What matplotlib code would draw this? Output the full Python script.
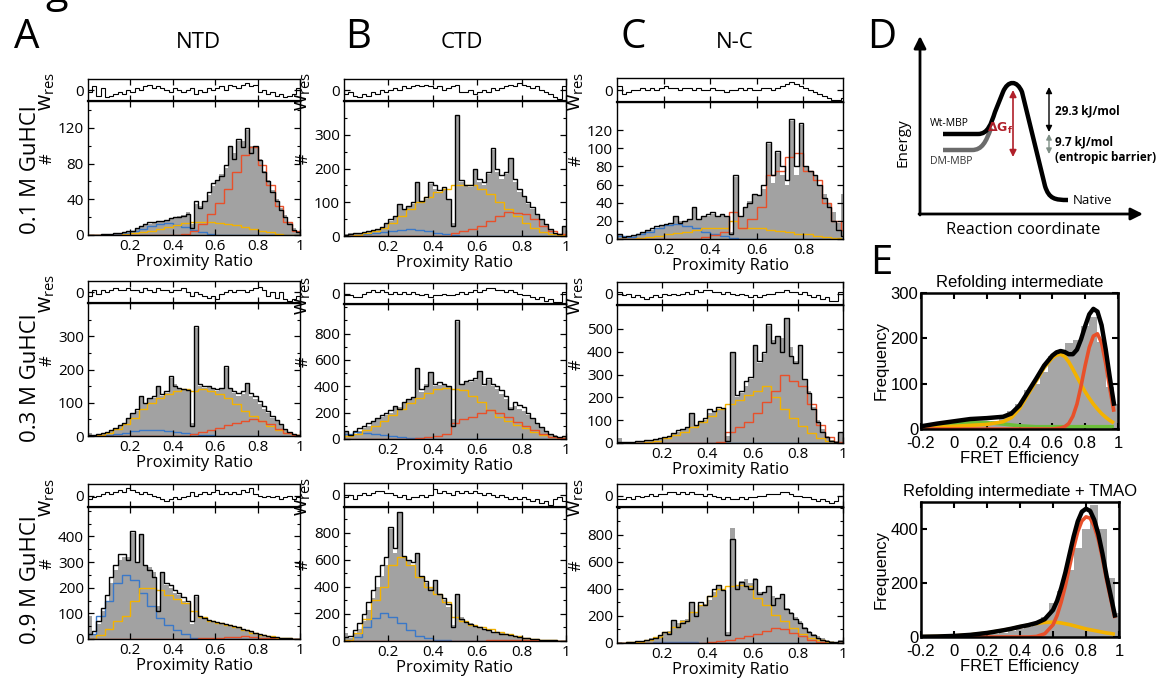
import numpy as np
import matplotlib
matplotlib.use("Agg")
import matplotlib.pyplot as plt
from matplotlib.ticker import MultipleLocator
from matplotlib.path import Path
from matplotlib.patches import PathPatch

plt.rcParams['font.family'] = ['Open Sans', 'DejaVu Sans']
plt.rcParams['mathtext.default'] = 'regular'

# ------------------------------------------------------------------ data
# histogram bins: 50 bins over proximity ratio 0..1 (data, fit, residual)
# component species: 25 bins over 0..1
pr_ticks = [0.2, 0.4, 0.6, 0.8, 1.0]
pr_ticklabels = ['0.2', '0.4', '0.6', '0.8', '1']
pr_ticks_c1 = [0.2, 0.4, 0.6, 0.8]
pr_ticklabels_c1 = ['0.2', '0.4', '0.6', '0.8']

col_titles = ['NTD', 'CTD', 'N-C']
row_titles = ['0.1 M GuHCl', '0.3 M GuHCl', '0.9 M GuHCl']

# ---- NTD 0.1 M
ntd01_data = [0, 0, 0, 1, 1, 1, 2, 2, 3, 4,
              5, 7, 9, 11, 12, 13, 15, 15, 16, 18,
              20, 21, 22, 26, 12, 35, 33, 38, 45, 55,
              60, 68, 75, 98, 92, 105, 105, 118, 100, 98,
              85, 72, 62, 50, 40, 30, 22, 14, 8, 4]
ntd01_fit = [0, 0, 0, 1, 1, 1, 2, 2, 3, 4,
             5, 8, 10, 12, 14, 15, 16, 16, 17, 19,
             20, 20, 21, 24, 8, 38, 30, 38, 48, 58,
             62, 66, 78, 100, 85, 108, 98, 120, 92, 100,
             84, 70, 60, 48, 38, 28, 20, 12, 6, 3]
ntd01_blue = [0, 0, 0, 1, 2, 4, 7, 10, 12, 13, 11, 9, 6, 3, 1, 0, 0, 0, 0, 0, 0, 0, 0, 0, 0]
ntd01_yellow = [0, 0, 0, 0, 1, 2, 3, 5, 7, 9, 11, 13, 15, 14, 14, 13, 12, 11, 9, 7, 5, 3, 1, 0, 0]
ntd01_red = [0, 0, 0, 0, 0, 0, 0, 0, 0, 0, 0, 1, 4, 12, 24, 36, 52, 70, 90, 98, 78, 56, 32, 15, 4]
ntd01_res = [-0.5, 1.0, -1.5, 0.5, -2.0, -1.5, -1.0, -0.5, -1.0, 0.0,
             -0.5, 0.5, 0.0, 1.0, 1.5, 0.5, 1.0, 0.5, 0.0, -0.5,
             0.5, 0.0, -0.5, 0.0, 0.5, -1.0, 0.0, -0.5, 0.5, 0.0,
             0.5, 1.0, 0.0, 1.5, 1.0, 0.5, 1.5, 2.0, 1.0, 1.5,
             -0.5, 0.0, -1.0, -0.5, -1.5, -1.0, -2.0, -1.5, -1.0, 0.5]
ntd01_yticks = [0, 40, 80, 120]

# ---- NTD 0.3 M
ntd03_data = [10, 3, 5, 8, 12, 18, 25, 30, 38, 50,
              65, 75, 118, 95, 110, 115, 148, 120, 130, 175,
              155, 140, 140, 135, 40, 325, 150, 145, 150, 140,
              135, 140, 205, 140, 130, 120, 125, 158, 120, 110,
              95, 80, 70, 55, 45, 35, 22, 12, 6, 3]
ntd03_fit = [2, 3, 5, 8, 12, 18, 25, 32, 40, 55,
             70, 80, 120, 100, 115, 120, 150, 125, 135, 180,
             150, 145, 140, 138, 30, 330, 155, 150, 150, 145,
             140, 145, 210, 145, 135, 130, 135, 160, 130, 120,
             105, 90, 75, 60, 48, 35, 22, 12, 6, 3]
ntd03_blue = [0, 1, 3, 6, 10, 14, 17, 18, 17, 15, 12, 9, 6, 4, 2, 1, 0, 0, 0, 0, 0, 0, 0, 0, 0]
ntd03_yellow = [1, 4, 10, 20, 35, 55, 80, 100, 115, 125, 135, 140, 135, 140, 135, 125, 115, 95, 75, 60, 45, 30, 18, 8, 2]
ntd03_red = [0, 0, 0, 0, 0, 0, 0, 0, 0, 0, 0, 0, 5, 12, 18, 25, 32, 40, 45, 52, 45, 35, 20, 8, 2]
ntd03_res = [-1.0, 0.5, -0.5, 0.5, 0.0, 0.5, 1.0, 0.5, 0.5, 1.0,
             0.5, 0.5, 0.0, 1.0, 0.5, 0.0, 1.0, 0.5, 0.5, 0.0,
             0.5, 0.5, 1.0, 0.0, -1.0, 0.0, -0.5, -1.0, -1.5, -1.0,
             -2.0, -0.5, 0.0, 0.5, 0.0, 0.5, 0.5, 0.0, 0.5, 1.0,
             1.5, 0.5, -1.0, 0.0, -1.5, 0.0, -2.0, -2.5, -2.0, -1.0]
ntd03_yticks = [0, 100, 200, 300]

# ---- NTD 0.9 M
ntd09_data = [90, 20, 60, 110, 150, 220, 270, 310, 320, 320,
              415, 300, 405, 290, 280, 260, 130, 260, 210, 200,
              180, 170, 150, 140, 60, 165, 90, 80, 75, 70,
              65, 60, 55, 55, 50, 45, 40, 35, 30, 25,
              20, 15, 12, 8, 6, 4, 3, 2, 1, 1]
ntd09_fit = [20, 30, 70, 120, 170, 240, 290, 330, 330, 310,
             420, 300, 410, 290, 270, 240, 110, 260, 220, 210,
             190, 180, 165, 150, 70, 170, 90, 80, 75, 70,
             65, 62, 58, 55, 50, 45, 40, 35, 30, 25,
             20, 15, 12, 8, 6, 4, 3, 2, 1, 1]
ntd09_blue = [20, 90, 150, 220, 250, 230, 180, 130, 80, 55, 35, 20, 5, 0, 0, 0, 0, 0, 0, 0, 0, 0, 0, 0, 0]
ntd09_yellow = [0, 15, 40, 70, 90, 150, 200, 200, 190, 170, 155, 140, 110, 85, 70, 62, 55, 45, 35, 25, 15, 10, 5, 2, 1]
ntd09_red = [0, 0, 0, 0, 0, 0, 0, 0, 0, 0, 0, 0, 0, 2, 3, 4, 6, 8, 10, 8, 5, 3, 1, 0, 0]
ntd09_res = [-1.0, -0.5, 0.0, 0.5, 1.0, 0.5, 1.0, 1.5, 1.0, 2.0,
             1.5, 1.0, 0.5, 1.0, 0.5, 0.0, -0.5, -1.0, -1.5, -1.0,
             -0.5, -1.0, -0.5, 0.0, 1.0, 0.0, 0.5, 1.0, 0.5, 1.0,
             1.5, 0.5, 1.0, 0.5, 1.0, 0.5, 1.5, 1.0, 2.0, 0.5,
             0.0, -0.5, 0.0, -0.5, 0.0, -1.0, -0.5, 0.0, -1.0, -0.5]
ntd09_yticks = [0, 100, 200, 300, 400]

# ---- CTD 0.1 M
ctd01_data = [5, 8, 5, 10, 12, 15, 18, 22, 28, 35,
              45, 55, 92, 80, 85, 95, 158, 100, 110, 155,
              140, 130, 140, 110, 40, 355, 160, 150, 145, 195,
              160, 150, 185, 255, 190, 170, 185, 228, 160, 130,
              115, 95, 80, 65, 50, 35, 20, 10, 5, 30]
ctd01_fit = [3, 6, 8, 10, 12, 15, 18, 22, 28, 40,
             50, 60, 95, 80, 90, 100, 160, 105, 115, 160,
             150, 135, 145, 110, 30, 360, 165, 150, 150, 200,
             170, 160, 190, 260, 200, 180, 190, 230, 170, 140,
             120, 100, 85, 65, 50, 35, 20, 10, 5, 30]
ctd01_blue = [0, 2, 5, 8, 12, 15, 18, 20, 18, 15, 10, 6, 3, 1, 0, 0, 0, 0, 0, 0, 0, 0, 0, 0, 0]
ctd01_yellow = [1, 4, 8, 15, 25, 40, 60, 80, 100, 115, 130, 140, 150, 150, 150, 140, 125, 100, 80, 60, 40, 25, 12, 5, 2]
ctd01_red = [0, 0, 0, 0, 0, 0, 0, 0, 0, 0, 0, 0, 10, 15, 20, 30, 45, 60, 70, 68, 65, 50, 30, 15, 5]
ctd01_res = [-1.0, -0.5, -1.5, -2.0, -1.0, -1.5, -0.5, -1.0, 0.0, -0.5,
             0.0, 0.5, 0.0, 1.0, 0.5, 1.0, 1.5, 1.0, 1.5, 1.0,
             0.5, 1.0, 0.0, 0.5, 1.0, 1.5, -0.5, -0.5, 0.0, -1.0,
             -0.5, 0.0, -0.5, 0.5, 0.0, 0.5, 1.0, 1.5, 1.0, 2.0,
             1.5, 1.0, 0.5, 1.0, 0.0, -0.5, -1.0, -2.0, -2.5, 1.0]
ctd01_yticks = [0, 100, 200, 300]

# ---- CTD 0.3 M
ctd03_data = [60, 20, 40, 60, 80, 100, 130, 150, 170, 180,
              200, 245, 240, 270, 300, 320, 530, 360, 420, 505,
              400, 410, 420, 400, 150, 890, 420, 440, 430, 450,
              515, 400, 450, 400, 380, 340, 300, 240, 250, 230,
              210, 180, 150, 120, 90, 60, 40, 30, 15, 20]
ctd03_fit = [60, 30, 60, 80, 100, 120, 140, 160, 180, 200,
             220, 250, 230, 280, 300, 320, 540, 380, 400, 510,
             420, 430, 420, 400, 100, 900, 420, 440, 450, 460,
             520, 420, 460, 420, 400, 370, 330, 230, 280, 260,
             240, 200, 160, 120, 90, 60, 40, 25, 15, 20]
ctd03_blue = [40, 50, 45, 40, 30, 20, 15, 10, 5, 2, 0, 0, 0, 0, 0, 0, 0, 0, 0, 0, 0, 0, 0, 0, 0]
ctd03_yellow = [20, 40, 70, 100, 140, 180, 230, 270, 310, 350, 380, 390, 380, 370, 330, 280, 220, 170, 140, 110, 80, 50, 28, 12, 4]
ctd03_red = [0, 0, 0, 0, 0, 0, 0, 0, 10, 15, 25, 35, 120, 150, 170, 200, 220, 200, 170, 130, 100, 70, 40, 15, 5]
ctd03_res = [-0.5, -0.5, -1.0, -1.0, 0.0, 0.5, 1.0, 0.5, 1.0, 0.5,
             0.0, 0.5, 0.0, 0.5, 0.0, 0.5, 0.0, -0.5, 0.0, -1.0,
             -0.5, -0.5, 0.0, -0.5, -0.5, 0.0, 0.5, 0.0, 0.5, 1.0,
             0.5, 1.0, 1.5, 1.5, 1.0, 1.0, 0.5, 1.0, 0.5, 0.0,
             -0.5, -0.5, -1.0, -1.5, -1.0, -2.0, -1.5, -2.5, -2.5, 0.5]
ctd03_yticks = [0, 200, 400, 600, 800]

# ---- CTD 0.9 M
ctd09_data = [60, 20, 50, 90, 150, 230, 320, 400, 480, 560,
              830, 650, 950, 620, 600, 560, 640, 470, 430, 400,
              445, 340, 300, 250, 120, 345, 180, 150, 130, 120,
              100, 90, 80, 70, 65, 60, 50, 45, 40, 30,
              25, 20, 15, 12, 10, 8, 5, 4, 3, 2]
ctd09_fit = [30, 40, 80, 130, 200, 290, 380, 480, 560, 620,
             840, 690, 950, 630, 600, 580, 650, 480, 440, 380,
             450, 350, 320, 270, 100, 350, 160, 140, 125, 110,
             100, 90, 80, 70, 65, 55, 50, 45, 40, 30,
             25, 20, 15, 12, 10, 8, 5, 4, 3, 2]
ctd09_blue = [5, 30, 100, 170, 210, 180, 130, 80, 40, 20, 10, 5, 0, 0, 0, 0, 0, 0, 0, 0, 0, 0, 0, 0, 0]
ctd09_yellow = [10, 60, 160, 300, 400, 560, 620, 560, 470, 400, 350, 290, 180, 150, 120, 100, 85, 65, 50, 38, 25, 15, 10, 5, 2]
ctd09_red = [0, 0, 0, 0, 0, 0, 0, 0, 0, 0, 0, 0, 0, 0, 2, 3, 5, 6, 8, 8, 7, 5, 3, 2, 1]
ctd09_res = [-0.5, 0.0, -1.0, 0.0, 0.5, 0.0, 0.5, 1.0, 1.0, 0.5,
             0.5, 0.0, -0.5, 0.0, -1.0, -0.5, -0.5, 0.0, -0.5, 0.0,
             1.5, 0.5, 1.0, 0.5, 0.0, 1.0, 0.5, 1.0, 0.5, 1.0,
             0.5, 0.0, 0.5, 0.0, -0.5, 0.0, -0.5, -1.0, -0.5, -1.0,
             -0.5, -1.0, -1.5, -1.0, -2.0, -1.5, -2.5, -1.0, -0.5, -1.5]
ctd09_yticks = [0, 200, 400, 600, 800]

# ---- N-C 0.1 M
nc01_data = [5, 3, 2, 4, 6, 8, 10, 10, 12, 14,
             15, 18, 24, 20, 20, 22, 34, 22, 25, 25,
             28, 25, 27, 25, 8, 68, 25, 35, 42, 50,
             48, 55, 105, 62, 95, 70, 60, 130, 70, 126,
             80, 75, 70, 60, 50, 40, 30, 18, 50, 20]
nc01_fit = [5, 2, 3, 4, 6, 8, 10, 12, 14, 15,
            16, 18, 25, 18, 20, 22, 35, 22, 25, 28,
            30, 25, 28, 25, 5, 70, 25, 35, 40, 50,
            48, 60, 107, 70, 97, 80, 65, 132, 80, 128,
            80, 75, 70, 60, 45, 35, 20, 10, 3, 20]
nc01_blue = [3, 2, 5, 8, 12, 15, 16, 14, 12, 8, 5, 3, 1, 0, 0, 0, 0, 0, 0, 0, 0, 0, 0, 0, 0]
nc01_yellow = [0, 0, 1, 2, 3, 5, 7, 8, 10, 12, 12, 12, 20, 12, 12, 12, 10, 9, 8, 6, 5, 3, 2, 1, 0]
nc01_red = [0, 0, 0, 0, 0, 0, 0, 0, 0, 2, 4, 8, 30, 12, 22, 35, 70, 75, 90, 95, 75, 65, 40, 20, 10]
nc01_res = [1.0, -1.0, -0.5, 0.0, 0.0, 0.5, 0.0, 0.5, 0.0, 0.5,
            1.0, 0.5, 0.5, 0.0, 0.5, 0.5, 0.0, 0.5, 0.0, 0.0,
            0.5, 0.0, 0.0, -0.5, 0.0, 0.0, 0.5, 0.0, 0.5, 0.0,
            0.0, 0.5, 0.5, 0.0, 0.5, 1.0, 1.5, 2.0, 1.5, 1.0,
            0.5, 0.0, -0.5, -1.0, -1.5, -2.0, -2.5, -2.5, -2.0, -2.0]
nc01_yticks = [0, 20, 40, 60, 80, 100, 120]

# ---- N-C 0.3 M
nc03_data = [20, 5, 5, 5, 8, 10, 12, 15, 18, 20,
             25, 30, 40, 50, 60, 70, 128, 80, 90, 100,
             130, 140, 150, 150, 30, 395, 200, 220, 250, 280,
             425, 350, 390, 515, 450, 470, 460, 545, 420, 360,
             425, 280, 230, 160, 100, 60, 30, 15, 8, 50]
nc03_fit = [5, 5, 5, 5, 8, 10, 12, 15, 18, 22,
            25, 30, 45, 55, 60, 70, 130, 80, 95, 110,
            150, 140, 160, 155, 10, 400, 210, 230, 270, 290,
            430, 360, 400, 520, 440, 470, 400, 550, 380, 350,
            430, 280, 220, 150, 90, 50, 25, 10, 5, 50]
nc03_blue = [0, 0, 1, 1, 1, 1, 1, 0, 0, 0, 0, 0, 0, 0, 0, 0, 0, 0, 0, 0, 0, 0, 0, 0, 0]
nc03_yellow = [0, 0, 2, 5, 10, 20, 35, 50, 70, 90, 120, 150, 170, 190, 210, 230, 250, 200, 150, 110, 75, 45, 20, 8, 2]
nc03_red = [0, 0, 0, 0, 0, 0, 0, 0, 0, 0, 0, 5, 50, 70, 90, 130, 180, 230, 300, 270, 250, 170, 80, 25, 5]
nc03_res = [0.5, -0.5, 0.0, -1.0, -0.5, -1.0, -1.5, -1.0, -0.5, -1.0,
            0.0, -0.5, 0.0, -0.5, 0.0, 0.5, 0.0, 1.0, 0.5, 1.0,
            1.0, 0.5, 0.5, 0.0, 0.5, 0.0, -0.5, 0.0, -0.5, -1.0,
            -0.5, -1.0, -0.5, 0.0, 0.0, 0.5, 0.5, 1.0, 0.5, 0.5,
            0.0, 0.5, -0.5, -1.0, -0.5, -1.5, -1.0, -2.0, -2.0, 0.5]
nc03_yticks = [0, 100, 200, 300, 400, 500]

# ---- N-C 0.9 M
nc09_data = [5, 3, 5, 8, 12, 18, 25, 35, 45, 60,
             80, 90, 165, 150, 170, 180, 295, 230, 280, 290,
             320, 380, 430, 400, 80, 850, 420, 460, 470, 440,
             480, 380, 380, 415, 350, 330, 355, 260, 230, 190,
             160, 120, 90, 70, 50, 35, 25, 15, 8, 20]
nc09_fit = [3, 3, 5, 8, 12, 18, 25, 30, 40, 60,
            80, 70, 170, 120, 150, 160, 300, 200, 300, 280,
            350, 400, 430, 390, 60, 770, 400, 450, 420, 400,
            470, 360, 380, 420, 280, 330, 360, 250, 220, 180,
            150, 110, 80, 60, 40, 25, 15, 10, 5, 15]
nc09_blue = [0, 0, 1, 3, 5, 10, 10, 8, 5, 3, 1, 0, 0, 0, 0, 0, 0, 0, 0, 0, 0, 0, 0, 0, 0]
nc09_yellow = [2, 5, 10, 25, 45, 80, 120, 160, 230, 280, 350, 400, 420, 430, 420, 330, 280, 210, 160, 110, 70, 40, 20, 8, 3]
nc09_red = [0, 0, 0, 0, 0, 0, 0, 0, 0, 0, 5, 15, 25, 40, 55, 70, 90, 110, 100, 75, 50, 25, 10, 3, 1]
nc09_res = [-1.0, -1.0, -0.5, -1.0, 0.0, -0.5, 0.0, 0.5, 0.0, 0.5,
            0.5, 1.0, 1.0, 0.5, 1.0, 0.5, 1.0, 0.5, 0.5, 0.0,
            0.5, 0.0, -0.5, -1.0, -0.5, -1.0, -1.0, -0.5, -1.0, -0.5,
            -0.5, 0.0, 0.0, 0.5, 0.5, 0.5, 1.0, 1.0, 0.5, 0.0,
            0.0, -0.5, -0.5, -1.0, -1.5, -1.0, -1.5, -2.0, -1.5, 0.0]
nc09_yticks = [0, 200, 400, 600, 800]

# ---- panel E : FRET efficiency histograms (bar centres, 0.05 wide)
fret_bins = [-0.2, -0.15, -0.1, -0.05, 0.0, 0.05, 0.1, 0.15, 0.2, 0.25, 0.3, 0.35,
             0.4, 0.45, 0.5, 0.55, 0.6, 0.65, 0.7, 0.75, 0.8, 0.85, 0.9, 0.95, 1.0]
refold_counts = [3, 5, 8, 10, 20, 12, 12, 15, 12, 18, 28, 40,
                 55, 85, 100, 126, 160, 175, 190, 196, 228, 247, 192, 93, 55]
tmao_counts = [3, 4, 5, 5, 6, 6, 7, 8, 10, 12, 15, 22,
               30, 38, 52, 74, 126, 170, 250, 330, 400, 490, 400, 220, 90]
# fitted curves
fret_x = [-0.2, -0.1, 0.0, 0.1, 0.2, 0.3, 0.35, 0.4, 0.45, 0.5, 0.55, 0.6, 0.625, 0.65,
          0.675, 0.7, 0.725, 0.75, 0.775, 0.8, 0.825, 0.85, 0.875, 0.9, 0.925, 0.95, 0.975]
refold_yellow = [2, 4, 6, 8, 10, 16, 25, 45, 75, 105, 135, 157, 163, 165,
                 160, 148, 132, 115, 98, 82, 68, 55, 44, 34, 26, 19, 13]
refold_red = [0, 0, 0, 0, 0, 0, 0, 0, 0, 0, 0, 0, 1, 2,
              5, 12, 28, 55, 95, 140, 180, 205, 210, 190, 145, 90, 38]
refold_green = [4, 8, 11, 14, 14, 11, 9, 7, 6, 5, 5, 5, 5, 5,
                5, 5, 5, 5, 5, 5, 5, 5, 5, 5, 5, 5, 5]
tmao_yellow = [1, 2, 4, 8, 15, 25, 31, 38, 44, 50, 54, 55, 54, 52,
               49, 46, 42, 38, 34, 30, 27, 24, 21, 18, 15, 13, 10]
tmao_red = [0, 0, 0, 0, 0, 0, 0, 0, 0, 2, 12, 45, 80, 130,
            190, 260, 330, 390, 430, 445, 440, 410, 360, 290, 210, 140, 70]
fret_ticks = [-0.2, 0.0, 0.2, 0.4, 0.6, 0.8, 1.0]
fret_ticklabels = ['-0.2', '0', '0.2', '0.4', '0.6', '0.8', '1']
refold_yticks = [0, 100, 200, 300]
tmao_yticks = [0, 200, 400]

# ------------------------------------------------------------------ style
W, H = 1166, 682
GRAY = '#a2a2a2'
BLUE = '#3a78c8'
YEL = '#f3b200'
RED = '#e8502a'
GREEN = '#6cbf3a'
TICK_FS = 11

fig = plt.figure(figsize=(W / 100, H / 100), dpi=100)


def px_box(x0, y0, x1, y1):
    return [x0 / W, 1 - y1 / H, (x1 - x0) / W, (y1 - y0) / H]


def style_ticks(ax, size):
    ax.tick_params(direction='in', top=True, right=True, length=4, width=0.9,
                   labelsize=size, pad=3)
    ax.tick_params(which='minor', direction='in', top=True, right=True, length=2.5, width=0.8)


def hist_panel(cols, rows, data, fit, blue, yellow, red, res,
               ymax, yticks, yminor, xmax, xt, xtl):
    x0, x1 = cols
    rt, mt, mb = rows
    width = x1 - x0
    axr = fig.add_axes(px_box(x0, rt, x1, mt))
    ax = fig.add_axes(px_box(x0, mt, x1, mb))
    e = np.linspace(0, 1, len(data) + 1)
    ce = np.linspace(0, 1, len(blue) + 1)
    ax.stairs(data, e, fill=True, color=GRAY, lw=0)
    ax.stairs(blue, ce, color=BLUE, lw=1.0)
    ax.stairs(yellow, ce, color=YEL, lw=1.0)
    ax.stairs(red, ce, color=RED, lw=1.0)
    ax.stairs(fit, e, color='k', lw=1.0)
    ax.set_xlim(0, xmax)
    ax.set_ylim(0, ymax)
    ax.set_xticks(xt)
    ax.set_xticklabels(xtl)
    ax.set_yticks(yticks)
    if yminor:
        ax.yaxis.set_minor_locator(MultipleLocator(yminor))
    style_ticks(ax, TICK_FS)
    ax.set_xlabel('Proximity Ratio', fontsize=12, labelpad=0)
    ax.set_ylabel('#', fontsize=12, labelpad=0)
    ax.yaxis.set_label_coords(-32 / width, 0.57)
    for s in ax.spines.values():
        s.set_linewidth(1.0)

    axr.stairs(res, e, color='k', lw=0.8)
    axr.set_xlim(0, xmax)
    axr.set_ylim(-3, 3)
    axr.set_xticks(xt)
    axr.set_xticklabels([])
    axr.set_yticks([0])
    axr.set_yticklabels(['0'])
    style_ticks(axr, TICK_FS)
    axr.set_ylabel(r'$\mathregular{w_{res}}$', fontsize=15, labelpad=0)
    axr.yaxis.set_label_coords(-31 / width, 0.42)
    for s in axr.spines.values():
        s.set_linewidth(1.0)
    axr.spines['bottom'].set_linewidth(1.6)
    return ax


col_px = [(88, 300), (344, 566), (617, 843)]
row_px = [
    [(79, 101, 235), (79, 101, 236), (78, 102, 239)],
    [(281, 303, 436), (283, 304, 439), (282, 305, 443)],
    [(484, 507, 639), (483, 507, 641), (484, 507, 643)],
]

panels = [
    [(ntd01_data, ntd01_fit, ntd01_blue, ntd01_yellow, ntd01_red, ntd01_res, 150, ntd01_yticks, 20),
     (ctd01_data, ctd01_fit, ctd01_blue, ctd01_yellow, ctd01_red, ctd01_res, 400, ctd01_yticks, 50),
     (nc01_data, nc01_fit, nc01_blue, nc01_yellow, nc01_red, nc01_res, 151, nc01_yticks, None)],
    [(ntd03_data, ntd03_fit, ntd03_blue, ntd03_yellow, ntd03_red, ntd03_res, 400, ntd03_yticks, 50),
     (ctd03_data, ctd03_fit, ctd03_blue, ctd03_yellow, ctd03_red, ctd03_res, 1025, ctd03_yticks, 100),
     (nc03_data, nc03_fit, nc03_blue, nc03_yellow, nc03_red, nc03_res, 605, nc03_yticks, None)],
    [(ntd09_data, ntd09_fit, ntd09_blue, ntd09_yellow, ntd09_red, ntd09_res, 515, ntd09_yticks, 50),
     (ctd09_data, ctd09_fit, ctd09_blue, ctd09_yellow, ctd09_red, ctd09_res, 990, ctd09_yticks, 100),
     (nc09_data, nc09_fit, nc09_blue, nc09_yellow, nc09_red, nc09_res, 1005, nc09_yticks, 100)],
]

for r in range(3):
    for c in range(3):
        d, f, b, y, rd, rs, ymax, yt, ymin = panels[r][c]
        if r == 0 and c == 2:
            xmax, xt, xtl = 0.97, pr_ticks_c1, pr_ticklabels_c1
        else:
            xmax, xt, xtl = 1.0, pr_ticks, pr_ticklabels
        hist_panel(col_px[c], row_px[r][c], d, f, b, y, rd, rs, ymax, yt, ymin, xmax, xt, xtl)


# ---------------------------------------------------------------- panel E
def fret_panel(box, counts, comps, ymax, yticks, title):
    ax = fig.add_axes(px_box(*box))
    ax.bar(fret_bins, counts, width=0.05, color='#a6a6a6', lw=0)
    total = np.zeros(len(fret_x))
    for vals, col in comps:
        ax.plot(fret_x, vals, color=col, lw=2.6, solid_capstyle='butt')
        total = total + np.array(vals)
    ax.plot(fret_x, total, color='k', lw=3.2)
    ax.set_xlim(-0.2, 1.0)
    ax.set_ylim(0, ymax)
    ax.set_xticks(fret_ticks)
    ax.set_xticklabels(fret_ticklabels, family=['Liberation Sans'])
    ax.set_yticks(yticks)
    for lab in ax.get_yticklabels():
        lab.set_family(['Liberation Sans'])
    ax.tick_params(direction='in', top=True, right=True, length=4, width=1.5,
                   labelsize=12)
    ax.tick_params(axis='x', pad=5)
    ax.tick_params(axis='y', pad=2)
    for s in ax.spines.values():
        s.set_linewidth(1.8)
    ax.set_xlabel('FRET Efficiency', fontsize=12, family=['Liberation Sans'], labelpad=0)
    ax.set_ylabel('Frequency', fontsize=12, family=['Liberation Sans'], labelpad=1)
    ax.set_title(title, fontsize=12, family=['Liberation Sans'], pad=4)
    return ax


fret_panel((921, 293, 1118, 429), refold_counts,
           [(refold_green, GREEN), (refold_yellow, YEL), (refold_red, RED)],
           300, refold_yticks, 'Refolding intermediate')
fret_panel((921, 502, 1119, 637), tmao_counts,
           [(tmao_yellow, YEL), (tmao_red, RED)],
           500, tmao_yticks, 'Refolding intermediate + TMAO')

# ---------------------------------------------------------------- overlay
ov = fig.add_axes([0, 0, 1, 1])
ov.set_xlim(0, W)
ov.set_ylim(H, 0)
ov.axis('off')

for lab, x, y in [('A', 27, 38), ('B', 358, 38), ('C', 633, 38), ('D', 882, 38), ('E', 881, 264)]:
    ov.text(x, y, lab, fontsize=29, ha='center', va='center')
ov.text(57, 2, 'g', fontsize=30, ha='center', va='baseline')

for t, x in zip(col_titles, [198, 462, 735]):
    ov.text(x, 42, t, fontsize=16, ha='center', va='center')
for t, y in zip(row_titles, [170, 378, 580]):
    ov.text(30, y, t, fontsize=16, ha='center', va='center', rotation=90)

# ---- panel D: schematic energy landscape
axis_kw = dict(arrowstyle='-|>', lw=2.0, color='k', mutation_scale=18, shrinkA=0, shrinkB=0)
ov.annotate('', xy=(920, 36), xytext=(920, 215), arrowprops=axis_kw)
ov.annotate('', xy=(1143, 214), xytext=(919, 214), arrowprops=axis_kw)

wt_path = Path([(943, 134), (978, 134), (988, 134), (991, 124), (995, 112), (1003, 92),
                (1008, 80), (1017, 80), (1022, 92), (1045, 186), (1049, 199), (1055, 200), (1068, 200)],
               [Path.MOVETO, Path.LINETO, Path.CURVE4, Path.CURVE4, Path.CURVE4, Path.LINETO,
                Path.CURVE4, Path.CURVE4, Path.CURVE4, Path.LINETO, Path.CURVE4, Path.CURVE4, Path.CURVE4])
dm_path = Path([(943, 150), (972, 150), (982, 150), (986, 142), (991, 128)],
               [Path.MOVETO, Path.LINETO, Path.CURVE4, Path.CURVE4, Path.CURVE4])
ov.add_patch(PathPatch(dm_path, fill=False, lw=3.2, color='#6b6b6b', capstyle='butt'))
ov.add_patch(PathPatch(wt_path, fill=False, lw=3.2, color='k', capstyle='butt', joinstyle='round'))

ov.annotate('', xy=(1013, 90), xytext=(1013, 157),
            arrowprops=dict(arrowstyle='<|-|>', lw=1.2, color='#b0202a', mutation_scale=10,
                            shrinkA=0, shrinkB=0))
ov.text(1000, 128, r'$\mathbf{\Delta G_f}$', color='#b0202a', fontsize=9, ha='center', va='center')
ov.annotate('', xy=(1049, 87), xytext=(1049, 132),
            arrowprops=dict(arrowstyle='<|-|>', lw=1.0, color='k', mutation_scale=9,
                            shrinkA=0, shrinkB=0))
ov.annotate('', xy=(1049, 134), xytext=(1049, 154),
            arrowprops=dict(arrowstyle='<|-|>', lw=1.0, color='#7f8f86', mutation_scale=8,
                            shrinkA=0, shrinkB=0))
ov.text(1055, 111, '29.3 kJ/mol', fontsize=8.5, fontweight='bold', ha='left', va='center')
ov.text(1055, 142, '9.7 kJ/mol', fontsize=8.5, fontweight='bold', ha='left', va='center')
ov.text(1055, 158, '(entropic barrier)', fontsize=8.5, fontweight='bold', ha='left', va='center')
ov.text(1073, 200, 'Native', fontsize=9.5, ha='left', va='center')
ov.text(930, 123, 'Wt-MBP', fontsize=7.5, ha='left', va='center')
ov.text(930, 161, 'DM-MBP', fontsize=7.5, ha='left', va='center', color='#333333')
ov.text(903, 143, 'Energy', fontsize=11, ha='center', va='center', rotation=90)
ov.text(1023, 230, 'Reaction coordinate', fontsize=12, ha='center', va='center')

fig.savefig('out.png', dpi=100)
